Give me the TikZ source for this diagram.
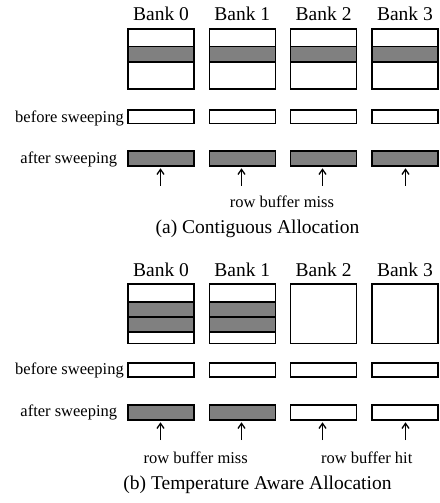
\documentclass[tikz,border=0pt]{standalone}
\usepackage{fontspec}
\setmainfont{Liberation Serif}
\usetikzlibrary{arrows.meta}
\definecolor{cellgray}{HTML}{808080}
\tikzset{
  x=1pt, y=-1pt,
  cell/.style={draw=black, line width=1.6pt, minimum width=66pt, inner sep=0pt, outer sep=0pt, anchor=north west},
  bankbox/.style={cell, fill=white},
  graybar/.style={cell, fill=cellgray},
  whitebar/.style={cell, fill=white},
  banklbl/.style={font=\fontsize{19.5}{22}\selectfont, inner sep=0pt, anchor=base},
  sidelbl/.style={font=\fontsize{16.5}{19}\selectfont, inner sep=0pt, anchor=base east},
  notelbl/.style={font=\fontsize{16.5}{19}\selectfont, inner sep=0pt, anchor=base},
  caplbl/.style={font=\fontsize{19.5}{22}\selectfont, inner sep=0pt, anchor=base},
  uparrow/.style={-{Straight Barb[length=5pt,width=7pt,line width=1.3pt]}, line width=1.5pt, shorten >=2.3pt}
}
\begin{document}
\begin{tikzpicture}
\useasboundingbox (0,0) rectangle (439,503);
% ---------- (a) ----------
\foreach \i/\xl/\ax in {0/128/160.5,1/209.3/241.5,2/290.6/322.5,3/371.9/405.5}{
  \node[banklbl] (la\i) at (\xl+33,20.3) {Bank \i};
  \node[bankbox, minimum height=59.7pt] (ta\i) at (\xl,29.3) {};
  \node[graybar, minimum height=15.3pt] (sa\i) at (\xl,46.7) {};
  \node[whitebar, minimum height=13.3pt] (ba\i) at (\xl,110) {};
  \node[graybar, minimum height=14.8pt] (aa\i) at (\xl,151.2) {};
  \coordinate (pa\i) at (\ax,185.5);
  \draw[uparrow] (pa\i) -- (aa\i.south -| pa\i);
}
\node[sidelbl] (bfa) at (124,122) {before sweeping};
\node[sidelbl] (afa) at (117.3,163) {after sweeping};
\node[notelbl] (rma) at (282,207) {row buffer miss};
\node[caplbl] (capa) at (257.5,233.5) {(a) Contiguous Allocation};
% ---------- (b) ----------
\foreach \i/\xl/\ax in {0/128/160.5,1/209.3/241.5,2/290.6/322.5,3/371.9/405.5}{
  \node[banklbl] (lb\i) at (\xl+33,276.5) {Bank \i};
  \node[bankbox, minimum height=59.3pt] (tb\i) at (\xl,284) {};
  \node[whitebar, minimum height=14.3pt] (bb\i) at (\xl,362.7) {};
  \coordinate (pb\i) at (\ax,440);
}
\foreach \i/\xl in {0/128,1/209.3}{
  \node[graybar, minimum height=15pt] (sb\i) at (\xl,301.7) {};
  \node[graybar, minimum height=15pt] (sc\i) at (\xl,316.7) {};
  \node[graybar, minimum height=15pt] (ab\i) at (\xl,405) {};
}
\foreach \i/\xl in {2/290.6,3/371.9}{
  \node[whitebar, minimum height=15pt] (ab\i) at (\xl,405) {};
}
\foreach \i in {0,1,2,3}{
  \draw[uparrow] (pb\i) -- (ab\i.south -| pb\i);
}
\node[sidelbl] (bfb) at (124,374.5) {before sweeping};
\node[sidelbl] (afb) at (117.3,416.5) {after sweeping};
\node[notelbl] (rmb) at (195.7,463) {row buffer miss};
\node[notelbl] (rhb) at (366.7,463) {row buffer hit};
\node[caplbl] (capb) at (257.5,489.5) {(b) Temperature Aware Allocation};
\end{tikzpicture}
\end{document}
